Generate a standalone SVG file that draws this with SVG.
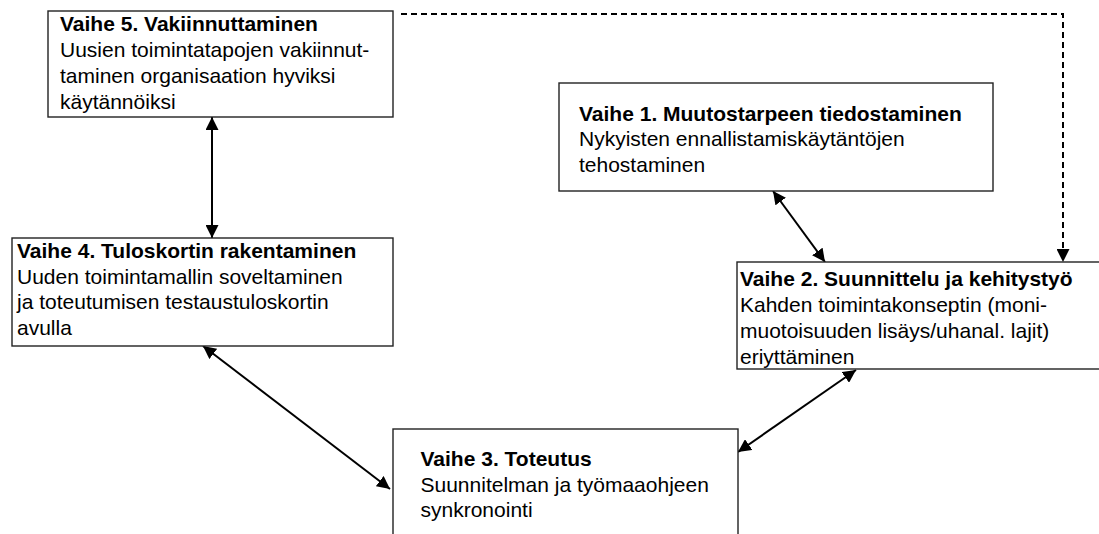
<svg xmlns="http://www.w3.org/2000/svg" width="1099" height="534" viewBox="0 0 1099 534">
<defs>
<style>
.box{fill:#fff;stroke:#222;stroke-width:1.4}
.t{font-family:"Liberation Sans",Arial,sans-serif;font-size:21px;fill:#000}
.b{font-weight:bold}
.c{fill:none;stroke:#000;stroke-width:2}
.d{fill:none;stroke:#000;stroke-width:2;stroke-dasharray:6 4}
</style>
<marker id="ah" markerUnits="userSpaceOnUse" markerWidth="13" markerHeight="13" viewBox="0 0 13 13" refX="13" refY="6.5" orient="auto-start-reverse">
<path d="M0,0 L13,6.5 L0,13 z" fill="#000"/>
</marker>
</defs>
<rect width="1099" height="534" fill="#fff"/>
<g id="connectors">
<line class="c" x1="212" y1="117" x2="212" y2="238" marker-start="url(#ah)" marker-end="url(#ah)"/>
<line class="c" x1="773" y1="191" x2="825" y2="262" marker-start="url(#ah)" marker-end="url(#ah)"/>
<line class="c" x1="203" y1="346" x2="390" y2="489" marker-start="url(#ah)" marker-end="url(#ah)"/>
<line class="c" x1="856" y1="370" x2="738" y2="452" marker-start="url(#ah)" marker-end="url(#ah)"/>
<polyline class="d" points="401,14 1063,14 1063,262" marker-end="url(#ah)"/>
</g>
<g id="node5">
<rect class="box" x="48" y="11" width="345" height="106"/>
<text class="t b" x="60" y="31">Vaihe 5. Vakiinnuttaminen</text>
<text class="t" x="60" y="57">Uusien toimintatapojen vakiinnut-</text>
<text class="t" x="60" y="83">taminen organisaation hyviksi</text>
<text class="t" x="60" y="109">käytännöiksi</text>
</g>
<g id="node1">
<rect class="box" x="559" y="83" width="434" height="108"/>
<text class="t b" x="579" y="120.5">Vaihe 1. Muutostarpeen tiedostaminen</text>
<text class="t" x="579" y="146">Nykyisten ennallistamiskäytäntöjen</text>
<text class="t" x="579" y="171.5">tehostaminen</text>
</g>
<g id="node2">
<rect class="box" x="737" y="262" width="370" height="107"/>
<text class="t b" x="740" y="285.5">Vaihe 2. Suunnittelu ja kehitystyö</text>
<text class="t" x="740" y="311.5">Kahden toimintakonseptin (moni-</text>
<text class="t" x="740" y="337.5">muotoisuuden lisäys/uhanal. lajit)</text>
<text class="t" x="740" y="363.5">eriyttäminen</text>
</g>
<g id="node4">
<rect class="box" x="12" y="238" width="381" height="108"/>
<text class="t b" x="17" y="258">Vaihe 4. Tuloskortin rakentaminen</text>
<text class="t" x="17" y="283.5">Uuden toimintamallin soveltaminen</text>
<text class="t" x="17" y="309">ja toteutumisen testaustuloskortin</text>
<text class="t" x="17" y="335">avulla</text>
</g>
<g id="node3">
<rect class="box" x="393" y="429" width="345" height="115"/>
<text class="t b" x="420.5" y="466">Vaihe 3. Toteutus</text>
<text class="t" x="420.5" y="491.5">Suunnitelman ja työmaaohjeen</text>
<text class="t" x="420.5" y="517">synkronointi</text>
</g>
</svg>
